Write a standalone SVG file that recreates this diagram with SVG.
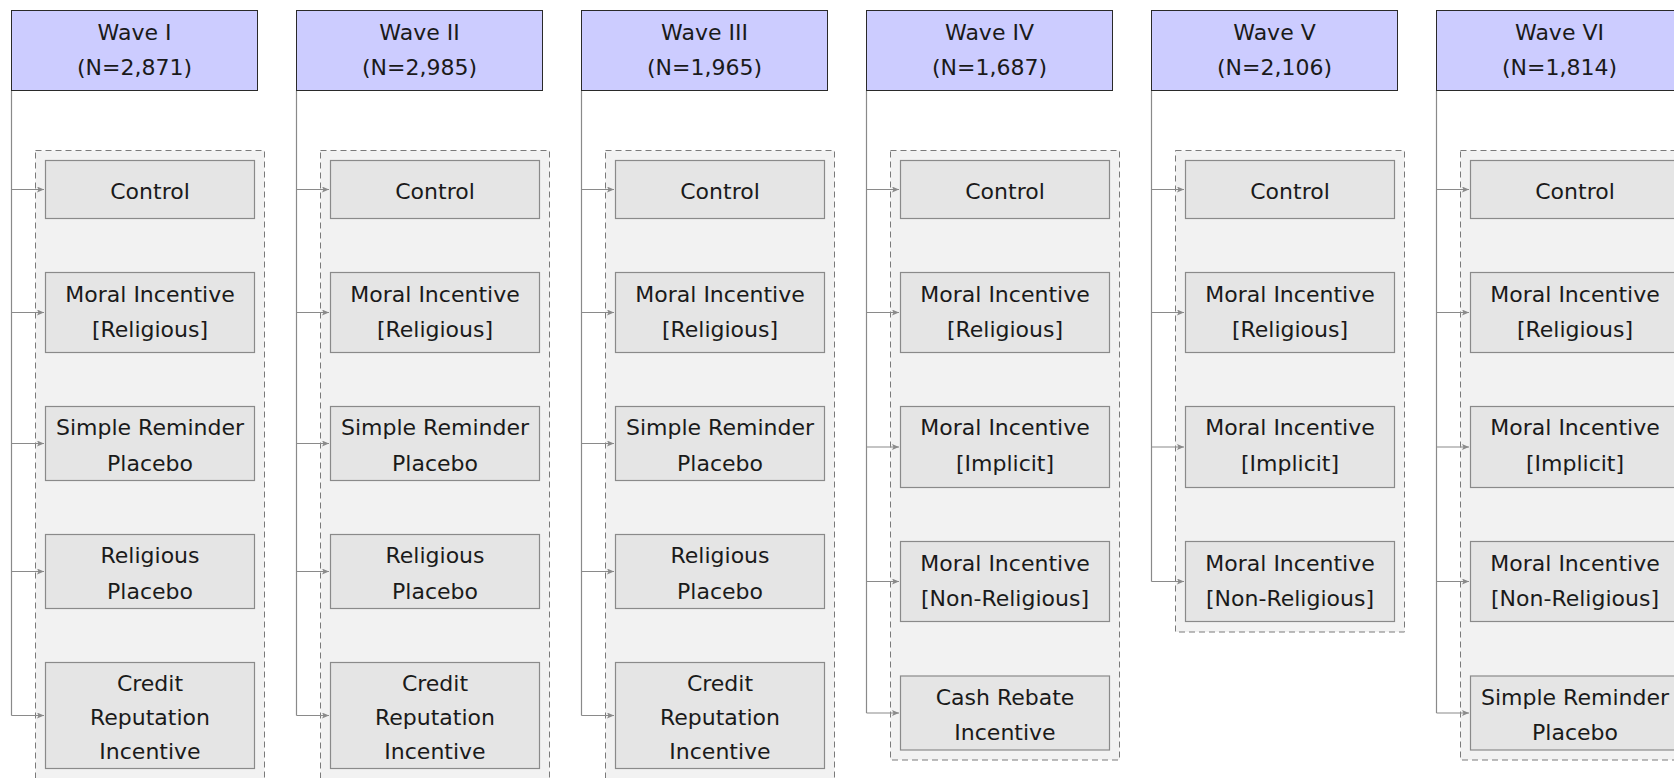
<svg xmlns="http://www.w3.org/2000/svg" width="1674" height="778" viewBox="0 0 1674 778">
<defs>
<style>
.hdr{fill:#ccccff;stroke:#2a2a2a;stroke-width:1}
.grp{fill:#f2f2f2;stroke:#7a7a7a;stroke-width:1;stroke-dasharray:6 4}
.box{fill:#e5e5e5;stroke:#8a8a8a;stroke-width:1.2}
text{font-family:"DejaVu Sans","Liberation Sans",sans-serif;font-size:22px;fill:#1a1a1a;text-anchor:middle}
.con{fill:none;stroke:#8a8a8a;stroke-width:1.2}
.arr{fill:none;stroke:#8a8a8a;stroke-width:1.2;marker-end:url(#ah)}
</style>
<marker id="ah" markerUnits="userSpaceOnUse" markerWidth="8" markerHeight="6" refX="7" refY="3" orient="auto">
<path d="M0,0 L7,3 L0,6 L1.5,3 z" fill="#8a8a8a"/>
</marker>
</defs>

<!-- group backgrounds -->
<g id="groups">
<rect class="grp" x="35.5" y="150.5" width="229" height="630"/>
<rect class="grp" x="320.5" y="150.5" width="229" height="630"/>
<rect class="grp" x="605.5" y="150.5" width="229" height="630"/>
<rect class="grp" x="890.5" y="150.5" width="229" height="609.5"/>
<rect class="grp" x="1175.5" y="150.5" width="229" height="481.5"/>
<rect class="grp" x="1460.5" y="150.5" width="229" height="609.5"/>
</g>

<!-- connectors -->
<g id="connectors">
<path class="con" d="M11.5,90.5 V715.5"/>
<path class="arr" d="M11.5,189.5 H44"/>
<path class="arr" d="M11.5,312.5 H44"/>
<path class="arr" d="M11.5,443.5 H44"/>
<path class="arr" d="M11.5,571.5 H44"/>
<path class="arr" d="M11.5,715.5 H44"/>

<path class="con" d="M296.5,90.5 V715.5"/>
<path class="arr" d="M296.5,189.5 H329"/>
<path class="arr" d="M296.5,312.5 H329"/>
<path class="arr" d="M296.5,443.5 H329"/>
<path class="arr" d="M296.5,571.5 H329"/>
<path class="arr" d="M296.5,715.5 H329"/>

<path class="con" d="M581.5,90.5 V715.5"/>
<path class="arr" d="M581.5,189.5 H614"/>
<path class="arr" d="M581.5,312.5 H614"/>
<path class="arr" d="M581.5,443.5 H614"/>
<path class="arr" d="M581.5,571.5 H614"/>
<path class="arr" d="M581.5,715.5 H614"/>

<path class="con" d="M866.5,90.5 V713"/>
<path class="arr" d="M866.5,189.5 H899"/>
<path class="arr" d="M866.5,312.5 H899"/>
<path class="arr" d="M866.5,447 H899"/>
<path class="arr" d="M866.5,581.5 H899"/>
<path class="arr" d="M866.5,713 H899"/>

<path class="con" d="M1151.5,90.5 V581.5"/>
<path class="arr" d="M1151.5,189.5 H1184"/>
<path class="arr" d="M1151.5,312.5 H1184"/>
<path class="arr" d="M1151.5,447 H1184"/>
<path class="arr" d="M1151.5,581.5 H1184"/>

<path class="con" d="M1436.5,90.5 V713"/>
<path class="arr" d="M1436.5,189.5 H1469"/>
<path class="arr" d="M1436.5,312.5 H1469"/>
<path class="arr" d="M1436.5,447 H1469"/>
<path class="arr" d="M1436.5,581.5 H1469"/>
<path class="arr" d="M1436.5,713 H1469"/>
</g>

<!-- Wave I -->
<g id="wave1"><rect class="hdr" x="11.5" y="10.5" width="246" height="80"/><text x="134.5" y="39.5">Wave I</text><text x="134.5" y="75">(N=2,871)</text></g>
<g id="w1-control"><rect class="box" x="45.5" y="160.5" width="209" height="58"/><text x="150" y="199">Control</text></g>
<g id="w1-moral-rel"><rect class="box" x="45.5" y="272.5" width="209" height="80"/><text x="150" y="301.5">Moral Incentive</text><text x="150" y="337">[Religious]</text></g>
<g id="w1-simple"><rect class="box" x="45.5" y="406.5" width="209" height="74"/><text x="150" y="435">Simple Reminder</text><text x="150" y="470.5">Placebo</text></g>
<g id="w1-relplacebo"><rect class="box" x="45.5" y="534.5" width="209" height="74"/><text x="150" y="563">Religious</text><text x="150" y="598.5">Placebo</text></g>
<g id="w1-credit"><rect class="box" x="45.5" y="662.5" width="209" height="106"/><text x="150" y="691">Credit</text><text x="150" y="725">Reputation</text><text x="150" y="759">Incentive</text></g>

<!-- Wave II -->
<g id="wave2"><rect class="hdr" x="296.5" y="10.5" width="246" height="80"/><text x="419.5" y="39.5">Wave II</text><text x="419.5" y="75">(N=2,985)</text></g>
<g id="w2-control"><rect class="box" x="330.5" y="160.5" width="209" height="58"/><text x="435" y="199">Control</text></g>
<g id="w2-moral-rel"><rect class="box" x="330.5" y="272.5" width="209" height="80"/><text x="435" y="301.5">Moral Incentive</text><text x="435" y="337">[Religious]</text></g>
<g id="w2-simple"><rect class="box" x="330.5" y="406.5" width="209" height="74"/><text x="435" y="435">Simple Reminder</text><text x="435" y="470.5">Placebo</text></g>
<g id="w2-relplacebo"><rect class="box" x="330.5" y="534.5" width="209" height="74"/><text x="435" y="563">Religious</text><text x="435" y="598.5">Placebo</text></g>
<g id="w2-credit"><rect class="box" x="330.5" y="662.5" width="209" height="106"/><text x="435" y="691">Credit</text><text x="435" y="725">Reputation</text><text x="435" y="759">Incentive</text></g>

<!-- Wave III -->
<g id="wave3"><rect class="hdr" x="581.5" y="10.5" width="246" height="80"/><text x="704.5" y="39.5">Wave III</text><text x="704.5" y="75">(N=1,965)</text></g>
<g id="w3-control"><rect class="box" x="615.5" y="160.5" width="209" height="58"/><text x="720" y="199">Control</text></g>
<g id="w3-moral-rel"><rect class="box" x="615.5" y="272.5" width="209" height="80"/><text x="720" y="301.5">Moral Incentive</text><text x="720" y="337">[Religious]</text></g>
<g id="w3-simple"><rect class="box" x="615.5" y="406.5" width="209" height="74"/><text x="720" y="435">Simple Reminder</text><text x="720" y="470.5">Placebo</text></g>
<g id="w3-relplacebo"><rect class="box" x="615.5" y="534.5" width="209" height="74"/><text x="720" y="563">Religious</text><text x="720" y="598.5">Placebo</text></g>
<g id="w3-credit"><rect class="box" x="615.5" y="662.5" width="209" height="106"/><text x="720" y="691">Credit</text><text x="720" y="725">Reputation</text><text x="720" y="759">Incentive</text></g>

<!-- Wave IV -->
<g id="wave4"><rect class="hdr" x="866.5" y="10.5" width="246" height="80"/><text x="989.5" y="39.5">Wave IV</text><text x="989.5" y="75">(N=1,687)</text></g>
<g id="w4-control"><rect class="box" x="900.5" y="160.5" width="209" height="58"/><text x="1005" y="199">Control</text></g>
<g id="w4-moral-rel"><rect class="box" x="900.5" y="272.5" width="209" height="80"/><text x="1005" y="301.5">Moral Incentive</text><text x="1005" y="337">[Religious]</text></g>
<g id="w4-moral-imp"><rect class="box" x="900.5" y="406.5" width="209" height="81"/><text x="1005" y="435">Moral Incentive</text><text x="1005" y="470.5">[Implicit]</text></g>
<g id="w4-moral-nonrel"><rect class="box" x="900.5" y="541.5" width="209" height="80"/><text x="1005" y="570.5">Moral Incentive</text><text x="1005" y="606">[Non-Religious]</text></g>
<g id="w4-cash"><rect class="box" x="900.5" y="676" width="209" height="74"/><text x="1005" y="704.5">Cash Rebate</text><text x="1005" y="740">Incentive</text></g>

<!-- Wave V -->
<g id="wave5"><rect class="hdr" x="1151.5" y="10.5" width="246" height="80"/><text x="1274.5" y="39.5">Wave V</text><text x="1274.5" y="75">(N=2,106)</text></g>
<g id="w5-control"><rect class="box" x="1185.5" y="160.5" width="209" height="58"/><text x="1290" y="199">Control</text></g>
<g id="w5-moral-rel"><rect class="box" x="1185.5" y="272.5" width="209" height="80"/><text x="1290" y="301.5">Moral Incentive</text><text x="1290" y="337">[Religious]</text></g>
<g id="w5-moral-imp"><rect class="box" x="1185.5" y="406.5" width="209" height="81"/><text x="1290" y="435">Moral Incentive</text><text x="1290" y="470.5">[Implicit]</text></g>
<g id="w5-moral-nonrel"><rect class="box" x="1185.5" y="541.5" width="209" height="80"/><text x="1290" y="570.5">Moral Incentive</text><text x="1290" y="606">[Non-Religious]</text></g>

<!-- Wave VI -->
<g id="wave6"><rect class="hdr" x="1436.5" y="10.5" width="246" height="80"/><text x="1559.5" y="39.5">Wave VI</text><text x="1559.5" y="75">(N=1,814)</text></g>
<g id="w6-control"><rect class="box" x="1470.5" y="160.5" width="209" height="58"/><text x="1575" y="199">Control</text></g>
<g id="w6-moral-rel"><rect class="box" x="1470.5" y="272.5" width="209" height="80"/><text x="1575" y="301.5">Moral Incentive</text><text x="1575" y="337">[Religious]</text></g>
<g id="w6-moral-imp"><rect class="box" x="1470.5" y="406.5" width="209" height="81"/><text x="1575" y="435">Moral Incentive</text><text x="1575" y="470.5">[Implicit]</text></g>
<g id="w6-moral-nonrel"><rect class="box" x="1470.5" y="541.5" width="209" height="80"/><text x="1575" y="570.5">Moral Incentive</text><text x="1575" y="606">[Non-Religious]</text></g>
<g id="w6-simple"><rect class="box" x="1470.5" y="676" width="209" height="74"/><text x="1575" y="704.5">Simple Reminder</text><text x="1575" y="740">Placebo</text></g>
</svg>
